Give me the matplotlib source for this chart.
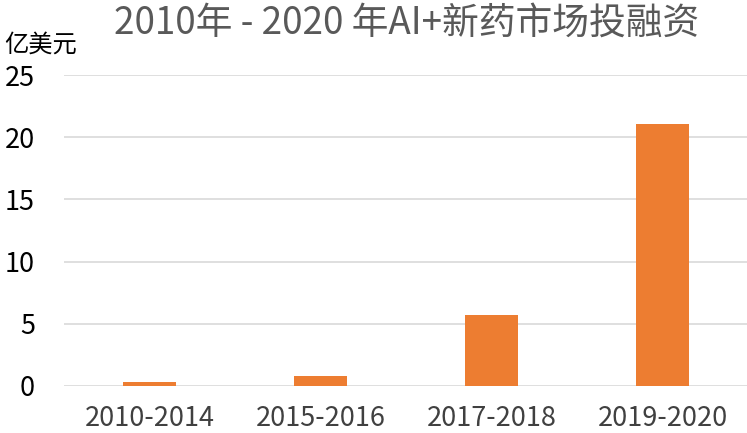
import matplotlib
matplotlib.use("Agg")
import matplotlib.pyplot as plt

plt.rcParams['font.family'] = ['Noto Sans CJK SC', 'DejaVu Sans']

# data
periods = ["2010-2014", "2015-2016", "2017-2018", "2019-2020"]
funding = [0.3, 0.8, 5.7, 21.1]   # 亿美元
yticks = [0, 5, 10, 15, 20, 25]

fig = plt.figure(figsize=(7.47, 4.33), dpi=100)
ax = fig.add_axes([64/747, 1 - 386/433, 684/747, 311/433])

x = range(len(periods))
ax.bar(x, funding, width=0.31, color="#ED7D31", zorder=3)

ax.set_xlim(-0.5, len(periods) - 0.5)
ax.set_ylim(0, 25)
ax.set_yticks(yticks)
ax.set_xticks(list(x))
ax.set_xticklabels(periods)

ax.grid(axis="y", color="#d9d9d9", linewidth=1.2, zorder=0)
for s in ax.spines.values():
    s.set_visible(False)
ax.tick_params(axis="both", length=0, labelsize=19.5, colors="#404040")
ax.tick_params(axis="y", pad=21, labelcolor="black")
ax.tick_params(axis="x", pad=14)

fig.text(407/747, 1 - 23/433, "2010年 - 2020 年AI+新药市场投融资",
         ha="center", va="center", fontsize=26.5, color="#595959")
fig.text(4/747, 1 - 45/433, "亿美元", ha="left", va="center",
         fontsize=17.5, color="black")

fig.savefig("out.png", dpi=100)
